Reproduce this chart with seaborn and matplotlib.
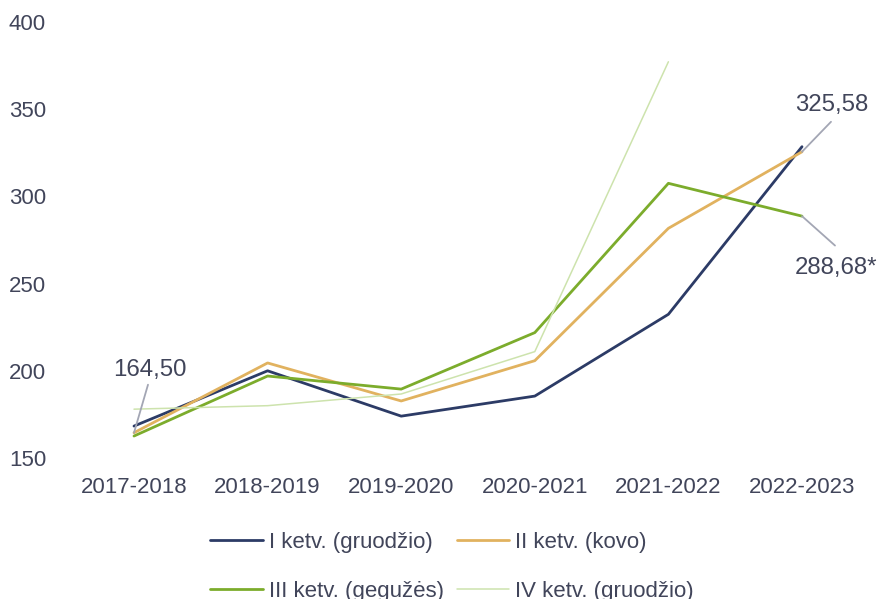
import matplotlib
matplotlib.use("Agg")
import matplotlib.pyplot as plt
import seaborn as sns
import pandas as pd

years = ["2017-2018", "2018-2019", "2019-2020", "2020-2021", "2021-2022", "2022-2023"]
q1 = [168.3, 200.0, 174.0, 185.5, 232.4, 328.5]
q2 = [164.50, 204.5, 182.7, 205.8, 281.7, 325.58]
q3 = [162.6, 197.0, 189.5, 221.9, 307.5, 288.68]
q4 = [178.0, 180.0, 186.7, 211.0, 377.2, None]
names = ["I ketv. (gruodžio)", "II ketv. (kovo)", "III ketv. (gegužės)", "IV ketv. (gruodžio)"]
colors = ["#2c3b66", "#e1b25f", "#7cac2c", "#cde3ad"]
widths = [2.0, 2.0, 2.0, 1.1]

sns.set_theme(style="white")
plt.rcParams["font.family"] = ["Liberation Sans", "DejaVu Sans"]
txt = "#41455a"

fig = plt.figure(figsize=(8.78, 5.99), dpi=100)
ax = fig.add_axes([60/878, 1-458/599, (870-60)/878, (458-22)/599])

series = [q1, q2, q3, q4]
handles = []
for name, vals, c, w in zip(names, series, colors, widths):
    df = pd.DataFrame({"x": list(range(len(years))), "y": vals}).dropna()
    sns.lineplot(data=df, x="x", y="y", ax=ax, color=c, linewidth=w, label=name, legend=False)
    handles.append(ax.lines[-1])

ax.set_xlim(-(134-60)/133.6, 5 + (870-802)/133.6)
ax.set_ylim(150, 400)
ax.set_xticks(range(len(years)))
ax.set_xticklabels(years)
ax.set_yticks([150, 200, 250, 300, 350, 400])
ax.set_xlabel("")
ax.set_ylabel("")
for s in ax.spines.values():
    s.set_visible(False)
ax.tick_params(axis="both", length=0, labelsize=16, colors=txt)
ax.tick_params(axis="x", pad=14)
ax.tick_params(axis="y", pad=10)

lc = "#a3a6b4"
def note(text, xi, yv, line_off, text_off):
    ax.annotate("", xy=(xi, yv), xytext=line_off, textcoords="offset pixels",
                arrowprops=dict(arrowstyle="-", color=lc, lw=1.3, shrinkA=0, shrinkB=0))
    ax.annotate(text, xy=(xi, yv), xytext=text_off, textcoords="offset pixels",
                ha="left", va="baseline", fontsize=17.3, color=txt)

note("164,50", 0, q2[0], (14, 48), (-21, 57))
note("325,58", 5, q2[5], (29, 30), (-7, 40.6))
note("288,68*", 5, q3[5], (33, -29.4), (-7, -57.7))

order = [0, 2, 1, 3]
leg = fig.legend([handles[i] for i in order], [names[i] for i in order],
                 ncol=2, loc="upper left", bbox_to_anchor=(210/878, 1-532/599),
                 frameon=False, fontsize=16, handlelength=2.37, handletextpad=0.27,
                 columnspacing=0.58, labelspacing=1.27, borderpad=0, borderaxespad=0,
                 labelcolor=txt)

fig.savefig("out.png", dpi=100)
